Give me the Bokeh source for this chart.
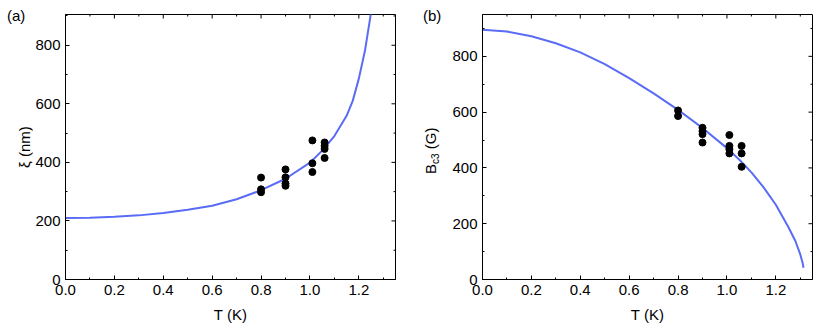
import math
from bokeh.plotting import figure
from bokeh.layouts import row
from bokeh.models import Range1d, FixedTicker, PrintfTickFormatter, Div
from bokeh.embed import file_html
from bokeh.resources import INLINE

# ---------------- data ----------------
# panel (a): coherence length xi (nm) vs T (K)
xi_T = [0.80, 0.80, 0.80, 0.90, 0.90, 0.90, 0.90, 1.01, 1.01, 1.01, 1.06, 1.06, 1.06, 1.06]
xi_nm = [348, 308, 298, 376, 349, 328, 320, 475, 397, 367, 468, 456, 446, 415]
xi_fit_T = [0.0, 0.1, 0.2, 0.3, 0.4, 0.5, 0.6, 0.7, 0.8, 0.9, 1.0, 1.05, 1.1,
            1.15, 1.175, 1.2, 1.225, 1.25, 1.27]
xi_fit_nm = [210, 211, 214, 219, 227, 238, 252, 274, 305, 344, 399, 440, 490,
             559, 610, 686, 781, 912, 1050]

# panel (b): Bc3 (G) vs T (K)
bc3_T = [0.80, 0.80, 0.90, 0.90, 0.90, 0.90, 1.01, 1.01, 1.01, 1.01, 1.06, 1.06, 1.06]
bc3_G = [606, 586, 544, 532, 521, 491, 518, 479, 467, 452, 479, 452, 404]
bc3_fit_T = [0.0, 0.1, 0.2, 0.3, 0.4, 0.5, 0.6, 0.7, 0.8, 0.9, 1.0, 1.05, 1.1,
             1.15, 1.2, 1.25, 1.28, 1.30, 1.31, 1.313]
bc3_fit_G = [895, 889, 872, 847, 814, 772, 722, 667, 608, 543, 471, 430, 384,
             330, 268, 190, 138, 90, 58, 42]

# axis ticks
x_major_ticks = [0.0, 0.2, 0.4, 0.6, 0.8, 1.0, 1.2]
x_minor_ticks = [0.1, 0.3, 0.5, 0.7, 0.9, 1.1, 1.3]
y_major_ticks = [0, 200, 400, 600, 800]
y_minor_ticks = [100, 300, 500, 700, 900]

# texts
panel_a_tag = "(a)"
panel_b_tag = "(b)"
xlabel = "T (K)"
ylabel_a = "ξ (nm)"
ylabel_b_html = 'B<sub style="font-size:10px;vertical-align:-3px;line-height:0;">c3</sub> (G)'

FONT = "Liberation Sans"
LINE = "#5a6cf5"


def style_axes(p):
    p.xaxis.ticker = FixedTicker(ticks=x_major_ticks, minor_ticks=x_minor_ticks)
    p.yaxis.ticker = FixedTicker(ticks=y_major_ticks, minor_ticks=y_minor_ticks)
    p.xaxis.formatter = PrintfTickFormatter(format="%.1f")
    p.yaxis.formatter = PrintfTickFormatter(format="%d")
    for ax in (p.xaxis[0], p.yaxis[0]):
        ax.major_tick_in = 4
        ax.major_tick_out = 0
        ax.minor_tick_in = 2
        ax.minor_tick_out = 0
        ax.axis_line_color = "black"
        ax.major_tick_line_color = "black"
        ax.minor_tick_line_color = "black"
        ax.major_label_text_font = FONT
        ax.major_label_text_font_size = "15px"
        ax.major_label_text_color = "black"
        ax.major_label_standoff = 5
        ax.axis_label_text_font = FONT
        ax.axis_label_text_font_size = "15px"
        ax.axis_label_text_font_style = "normal"
        ax.axis_label_text_color = "black"
    p.xaxis.axis_label = xlabel
    p.xaxis.axis_label_standoff = 8
    p.xgrid.visible = False
    p.ygrid.visible = False
    p.outline_line_color = "black"
    p.background_fill_color = "white"
    p.border_fill_color = "white"
    # mirrored inward ticks on the top and right edges (half of each dash is clipped)
    xr, yr = p.x_range, p.y_range
    p.scatter(x_major_ticks, [yr.end] * len(x_major_ticks), marker="dash", size=8,
              angle=math.pi / 2, line_color="black", line_width=1)
    p.scatter(x_minor_ticks, [yr.end] * len(x_minor_ticks), marker="dash", size=4,
              angle=math.pi / 2, line_color="black", line_width=1)
    p.scatter([xr.end] * len(y_major_ticks), y_major_ticks, marker="dash", size=8,
              line_color="black", line_width=1)
    p.scatter([xr.end] * len(y_minor_ticks), y_minor_ticks, marker="dash", size=4,
              line_color="black", line_width=1)


def side_div(width, tag, tag_left, label_html, label_left, label_bottom):
    html = (
        f'<div style="position:relative;width:{width}px;height:328px;'
        f"font-family:'{FONT}',Arial,sans-serif;font-size:15px;line-height:15px;color:#000;\">"
        f'<span style="position:absolute;left:{tag_left}px;top:8px;white-space:nowrap;">{tag}</span>'
        f'<span style="position:absolute;left:{label_left}px;top:{label_bottom}px;white-space:nowrap;'
        f'transform:rotate(-90deg);transform-origin:0 0;">{label_html}</span>'
        f"</div>"
    )
    return Div(text=html, width=width, height=328, margin=0)


# ---------------- panel (a) ----------------
p1 = figure(width=390, height=328, x_range=Range1d(0, 1.35), y_range=Range1d(0, 905),
            output_backend="svg", toolbar_location=None,
            min_border_left=31, min_border_right=27, min_border_top=14, min_border_bottom=48)
style_axes(p1)
p1.line(xi_fit_T, xi_fit_nm, line_color=LINE, line_width=2)
p1.scatter(xi_T, xi_nm, size=7, color="black")

# ---------------- panel (b) ----------------
p2 = figure(width=371, height=328, x_range=Range1d(0, 1.35), y_range=Range1d(0, 950),
            output_backend="svg", toolbar_location=None,
            min_border_left=36, min_border_right=5, min_border_top=13, min_border_bottom=49)
style_axes(p2)
p2.line(bc3_fit_T, bc3_fit_G, line_color=LINE, line_width=2)
p2.scatter(bc3_T, bc3_G, size=7, color="black")

div_a = side_div(32, panel_a_tag, 7, ylabel_a, 17, 168)
div_b = side_div(24, panel_b_tag, 1, ylabel_b_html, 1, 174)

layout = row(div_a, p1, div_b, p2)
open("out.html", "w").write(file_html(layout, INLINE))
